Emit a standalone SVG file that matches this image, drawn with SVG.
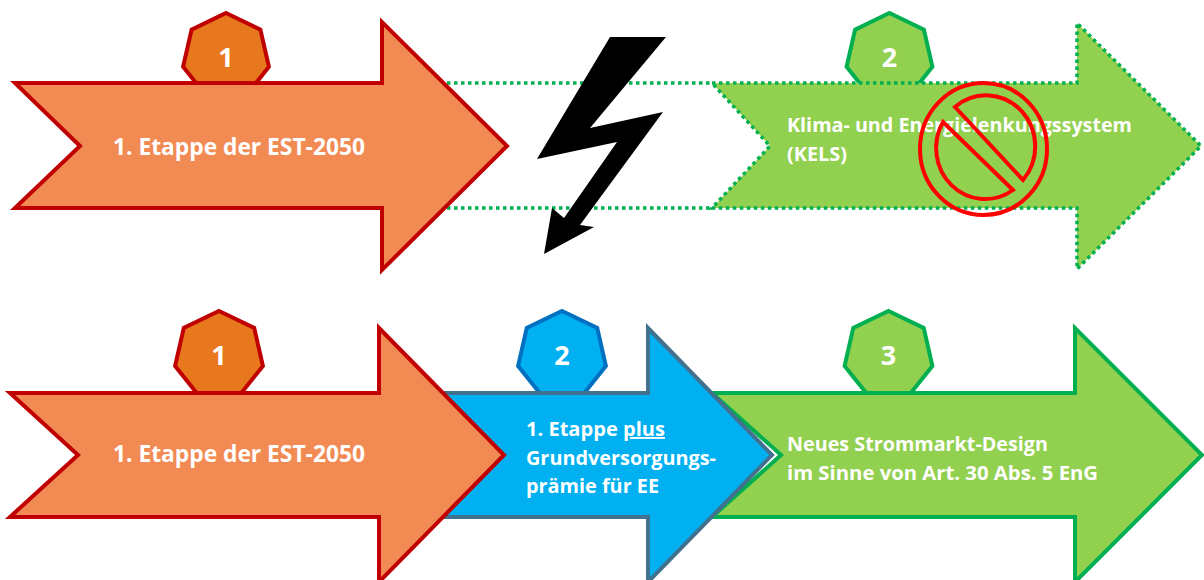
<svg xmlns="http://www.w3.org/2000/svg" width="1204" height="580" viewBox="0 0 1204 580">
<style>
.txt{font-family:"Open Sans","Liberation Sans",sans-serif;font-weight:bold;fill:#ffffff}
.num{font-size:27px;text-anchor:middle}
.big{font-size:23px}
.mid{font-size:20px}
.sm{font-size:19px}
.orange{fill:#f28a54;stroke:#c00000;stroke-width:4;stroke-linejoin:miter}
.hept-o{fill:#e8781e;stroke:#c00000;stroke-width:4}
.green{fill:#92d050;stroke:#00b050;stroke-width:4}
.green-dot{fill:#92d050;stroke:#00b050;stroke-width:3.5;stroke-dasharray:3.5 3.5}
.blue{fill:#00b0f0;stroke:#41718f;stroke-width:4}
.hept-b{fill:#00b0f0;stroke:#0070c0;stroke-width:4}
.dotline{fill:none;stroke:#00b050;stroke-width:3.5;stroke-dasharray:3.5 3.5}
.nosign{fill:none;stroke:#ff0000;stroke-width:4}
</style>
<rect width="1204" height="580" fill="#ffffff"/>

<g id="connectors">
  <line class="dotline" x1="440" y1="83" x2="712" y2="83"/>
  <line class="dotline" x1="440" y1="208" x2="712" y2="208"/>
</g>

<g id="top-step1">
  <polygon class="hept-o" points="226,13 260.4,29.6 268.9,66.8 245.1,96.6 206.9,96.6 183.1,66.8 191.6,29.6"/>
  <text class="txt num" x="226" y="67">1</text>
  <polygon class="orange" points="15,83 382,83 382,22 507,146 382,270 382,208 15,208 80,146"/>
  <text class="txt big" x="113" y="155" textLength="252" lengthAdjust="spacingAndGlyphs">1. Etappe der EST-2050</text>
</g>

<g id="lightning">
  <polygon fill="#000000" points="610,37 666,37 590,128 663,112 580,225 594,227 544,254 552,208 564,218 617,142 537,159"/>
</g>

<g id="top-step2">
  <polygon class="green" points="889.5,13 923.9,29.6 932.4,66.8 908.6,96.6 870.4,96.6 846.6,66.8 855.1,29.6"/>
  <text class="txt num" x="889.5" y="67">2</text>
  <polygon class="green-dot" points="712,83 1077,83 1077,23 1201,146 1077,269 1077,208 712,208 770,146"/>
  <text class="txt mid" x="787" y="132" textLength="345" lengthAdjust="spacingAndGlyphs">Klima- und Energielenkungssystem</text>
  <text class="txt mid" x="787" y="161" textLength="60" lengthAdjust="spacingAndGlyphs">(KELS)</text>
</g>

<g id="prohibited">
  <ellipse class="nosign" cx="983.5" cy="149" rx="63.5" ry="66"/>
  <path class="nosign" d="M955,107 A49,51 0 0 1 1023,180 Z"/>
  <path class="nosign" d="M1013,190 A49,51 0 0 1 943,122 Z"/>
</g>

<g id="bottom-step3">
  <polygon class="green" points="888.5,311 923.7,327.9 932.4,366 908.0,396.5 869.0,396.5 844.6,366 853.3,327.9"/>
  <text class="txt num" x="888.5" y="365">3</text>
  <polygon class="green" points="712,393 1075,393 1075,328 1202,455 1075,582 1075,517 712,517 781,455"/>
  <text class="txt sm" x="787" y="451" textLength="261" lengthAdjust="spacingAndGlyphs">Neues Strommarkt-Design</text>
  <text class="txt sm" x="787" y="479.5" textLength="311" lengthAdjust="spacingAndGlyphs">im Sinne von Art. 30 Abs. 5 EnG</text>
</g>

<g id="bottom-step2">
  <polygon class="hept-b" points="562,311 597.2,327.9 605.9,366 581.5,396.5 542.5,396.5 518.1,366 526.8,327.9"/>
  <text class="txt num" x="562" y="365">2</text>
  <polygon class="blue" points="400,393 648,393 648,328 772,455 648,582 648,517 400,517"/>
  <text class="txt sm" x="526" y="436" textLength="139" lengthAdjust="spacingAndGlyphs">1. Etappe <tspan text-decoration="underline">plus</tspan></text>
  <text class="txt sm" x="526" y="465" textLength="190" lengthAdjust="spacingAndGlyphs">Grundversorgungs-</text>
  <text class="txt sm" x="526" y="493" textLength="133" lengthAdjust="spacingAndGlyphs">prämie für EE</text>
</g>

<g id="bottom-step1">
  <polygon class="hept-o" points="219,311 254.2,327.9 262.9,366 238.5,396.5 199.5,396.5 175.1,366 183.8,327.9"/>
  <text class="txt num" x="219" y="365">1</text>
  <polygon class="orange" points="10,393 379,393 379,328 504,455 379,582 379,517 10,517 78,455"/>
  <text class="txt big" x="113" y="462" textLength="252" lengthAdjust="spacingAndGlyphs">1. Etappe der EST-2050</text>
</g>
</svg>
